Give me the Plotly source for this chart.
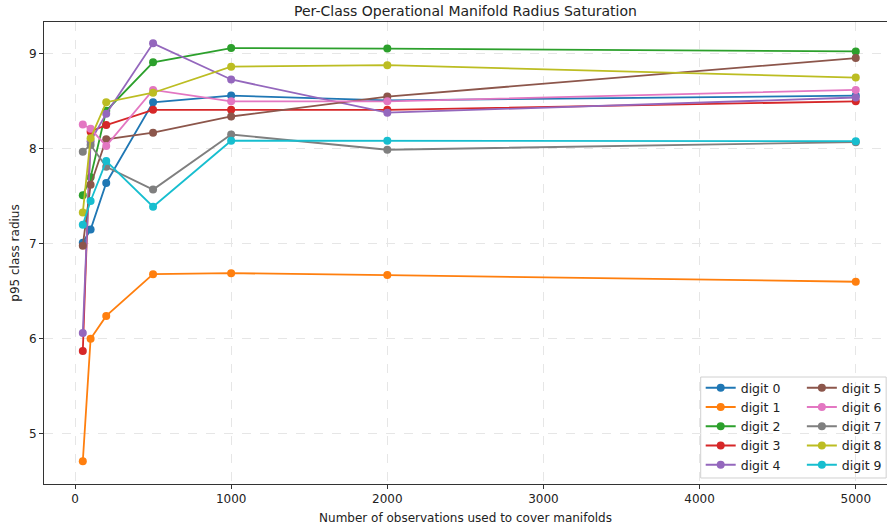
import plotly.graph_objects as go

x_obs = [50, 100, 200, 500, 1000, 2000, 5000]

digit_0 = [7.01, 7.15, 7.64, 8.49, 8.56, 8.51, 8.56]
digit_1 = [4.71, 6.00, 6.24, 6.68, 6.69, 6.67, 6.60]
digit_2 = [7.51, 7.70, 8.40, 8.91, 9.06, 9.055, 9.025]
digit_3 = [5.87, 8.18, 8.25, 8.41, 8.41, 8.41, 8.50]
digit_4 = [6.06, 8.08, 8.37, 9.11, 8.73, 8.38, 8.54]
digit_5 = [6.98, 7.62, 8.10, 8.17, 8.34, 8.55, 8.955]
digit_6 = [8.255, 8.21, 8.03, 8.62, 8.50, 8.50, 8.62]
digit_7 = [7.97, 8.04, 7.81, 7.57, 8.15, 7.99, 8.07]
digit_8 = [7.33, 8.11, 8.49, 8.59, 8.865, 8.88, 8.75]
digit_9 = [7.20, 7.45, 7.87, 7.39, 8.085, 8.085, 8.08]

series = [digit_0, digit_1, digit_2, digit_3, digit_4,
          digit_5, digit_6, digit_7, digit_8, digit_9]
names = [f"digit {i}" for i in range(10)]
colors = ["#1f77b4", "#ff7f0e", "#2ca02c", "#d62728", "#9467bd",
          "#8c564b", "#e377c2", "#7f7f7f", "#bcbd22", "#17becf"]

fig = go.Figure()
for i, (ys, nm, c) in enumerate(zip(series, names, colors)):
    fig.add_trace(go.Scatter(
        x=x_obs, y=ys, name=nm, mode="lines+markers",
        line=dict(color=c, width=1.8),
        marker=dict(color=c, size=8),
        legend="legend" if i < 5 else "legend2",
    ))

font = dict(family="DejaVu Sans", size=12, color="#222")
legend_common = dict(
    yanchor="top", y=0.240, xanchor="left",
    bgcolor="rgba(0,0,0,0)", borderwidth=0,
    font=dict(family="DejaVu Sans", size=12.5, color="#222"),
    tracegroupgap=0, itemwidth=30,
)

fig.update_layout(
    width=888, height=526,
    margin=dict(l=44, r=1, t=22, b=42, autoexpand=False),
    paper_bgcolor="white", plot_bgcolor="white",
    font=font,
    title=dict(text="Per-Class Operational Manifold Radius Saturation",
               x=(465.5) / 888, xanchor="center", y=1 - 11 / 526, yanchor="middle",
               font=dict(family="DejaVu Sans", size=14, color="#222")),
    showlegend=True,
    legend=dict(x=0.779, **legend_common),
    legend2=dict(x=0.899, **legend_common),
    shapes=[dict(type="rect", xref="paper", yref="paper",
                 x0=0.779, x1=0.999, y0=0.013, y1=0.2316,
                 line=dict(color="#d0d0d0", width=1), fillcolor="white",
                 layer="below")],
    xaxis=dict(
        range=[-198.5, 5200], tickvals=[0, 1000, 2000, 3000, 4000, 5000],
        showgrid=True, gridcolor="#e6e6e6", griddash="dash", gridwidth=1,
        zeroline=False, showline=True, linecolor="#333", linewidth=1, mirror=True,
        ticks="outside", ticklen=4, tickcolor="#333", automargin=False,
        title=dict(text="Number of observations used to cover manifolds",
                   font=dict(family="DejaVu Sans", size=12), standoff=8),
    ),
    yaxis=dict(
        range=[4.47, 9.335], tickvals=[5, 6, 7, 8, 9],
        showgrid=True, gridcolor="#e6e6e6", griddash="dash", gridwidth=1,
        zeroline=False, showline=True, linecolor="#333", linewidth=1,
        ticks="outside", ticklen=4, tickcolor="#333", automargin=False,
        title=dict(text="p95 class radius",
                   font=dict(family="DejaVu Sans", size=12), standoff=6),
    ),
)

fig.write_html("out.html", config={"displayModeBar": False},
               post_script="document.body.style.margin='0';")
